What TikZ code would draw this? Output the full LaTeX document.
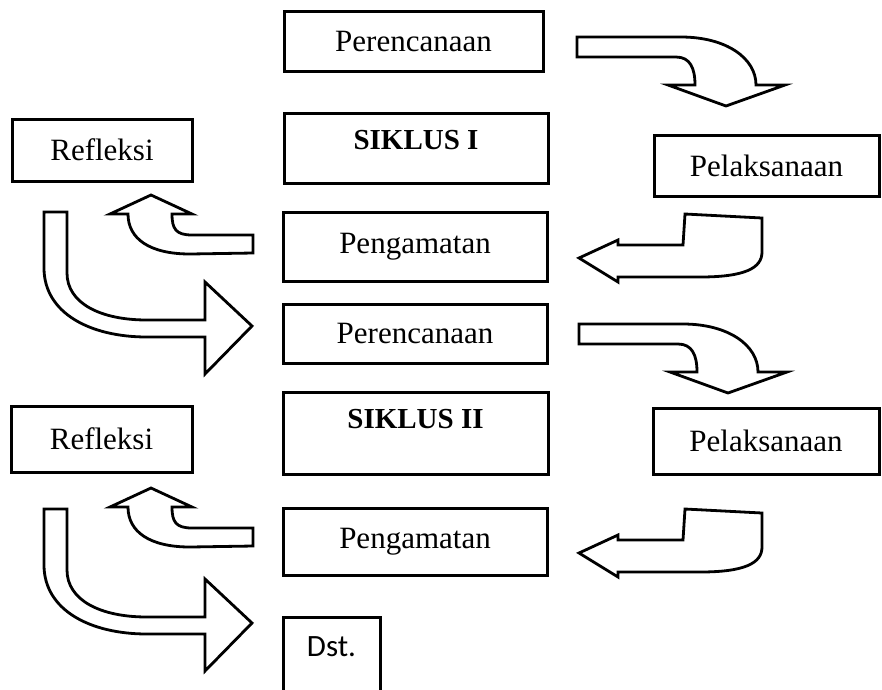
\documentclass[tikz,border=0pt]{standalone}
\usepackage{fontspec}
\setmainfont{Liberation Serif}
\newfontfamily\dstfont{Carlito}
\usepackage{tikz}

\begin{document}
\begin{tikzpicture}[x=1pt, y=-1pt,
    stage/.style={rectangle, draw=black, line width=3pt, text centered, font=\fontsize{31}{36}\selectfont},
    cycle/.style={stage, font=\fontsize{29}{34}\selectfont\bfseries},
    blockarrow/.style={draw=black, line width=2.8pt, line join=miter, fill=white},
    pics/bendright/.style={code={\draw[blockarrow] (0,0) -- (104,0) .. controls (149,0) and (179,21) .. (179,48) -- (208,48) -- (149,69) -- (91,48) -- (118,48) .. controls (118,31) and (113,20) .. (99,20) -- (0,20) -- cycle;}},
    pics/bendleft/.style={code={\draw[blockarrow] (0,0) -- (77,4) -- (77,38) .. controls (77,54) and (60,63) .. (15,63) -- (-67,63) -- (-67,68) -- (-106,44) -- (-67,26) -- (-67,31) -- (-2,31) -- cycle;}},
    pics/bendup/.style={code={\draw[blockarrow] (0,0) -- (41,19) -- (21,19) .. controls (21,34) and (25,40) .. (41,40) -- (102,40) -- (102,58) -- (39,59) .. controls (-1,59) and (-23,44) .. (-23,19) -- (-41,19) -- cycle;}},
    pics/bendon/.style={code={\draw[blockarrow] (0,0) -- (23,0) -- (23,61) .. controls (23,91) and (56,108) .. (103,108) -- (161,108) -- (161,70) -- (208,114) -- (161,162) -- (161,125) -- (103,125) .. controls (46,125) and (0,101) .. (0,56) -- cycle;}}]
  \clip (0,0) rectangle (882,689);

  % siklus I
  \node[stage, minimum width=259, minimum height=60] (plan1) at (413.5,41) {Perencanaan};
  \node[cycle, minimum width=264, minimum height=70, text depth=16pt] (cycle1) at (416,148) {SIKLUS I};
  \node[stage, minimum width=180, minimum height=62] (reflect1) at (102,150) {Refleksi};
  \node[stage, minimum width=225, minimum height=61] (act1) at (766.5,165.5) {Pelaksanaan};
  \node[stage, minimum width=264, minimum height=69] (observe1) at (415,246.5) {Pengamatan};

  % siklus II
  \node[stage, minimum width=264, minimum height=59] (plan2) at (415,333.5) {Perencanaan};
  \node[cycle, minimum width=265, minimum height=82, text depth=28pt] (cycle2) at (415.5,433) {SIKLUS II};
  \node[stage, minimum width=181, minimum height=66] (reflect2) at (101.5,439) {Refleksi};
  \node[stage, minimum width=226, minimum height=66] (act2) at (766,441) {Pelaksanaan};
  \node[stage, minimum width=264, minimum height=67] (observe2) at (415,541.5) {Pengamatan};

  \node[stage, font=\dstfont\fontsize{31}{34}\selectfont, minimum width=97, text height=18pt, text depth=50pt, inner ysep=21pt, anchor=base] (next) at (331.5,656) {Dst.};

  % block arrows
  \pic at (577,37) {bendright};
  \pic at (579,324) {bendright};
  \pic at (685,214) {bendleft};
  \pic at (685,509) {bendleft};
  \pic at (151,195) {bendup};
  \pic at (151,488) {bendup};
  \pic at (44,212) {bendon};
  \pic at (44,509) {bendon};
\end{tikzpicture}
\end{document}
